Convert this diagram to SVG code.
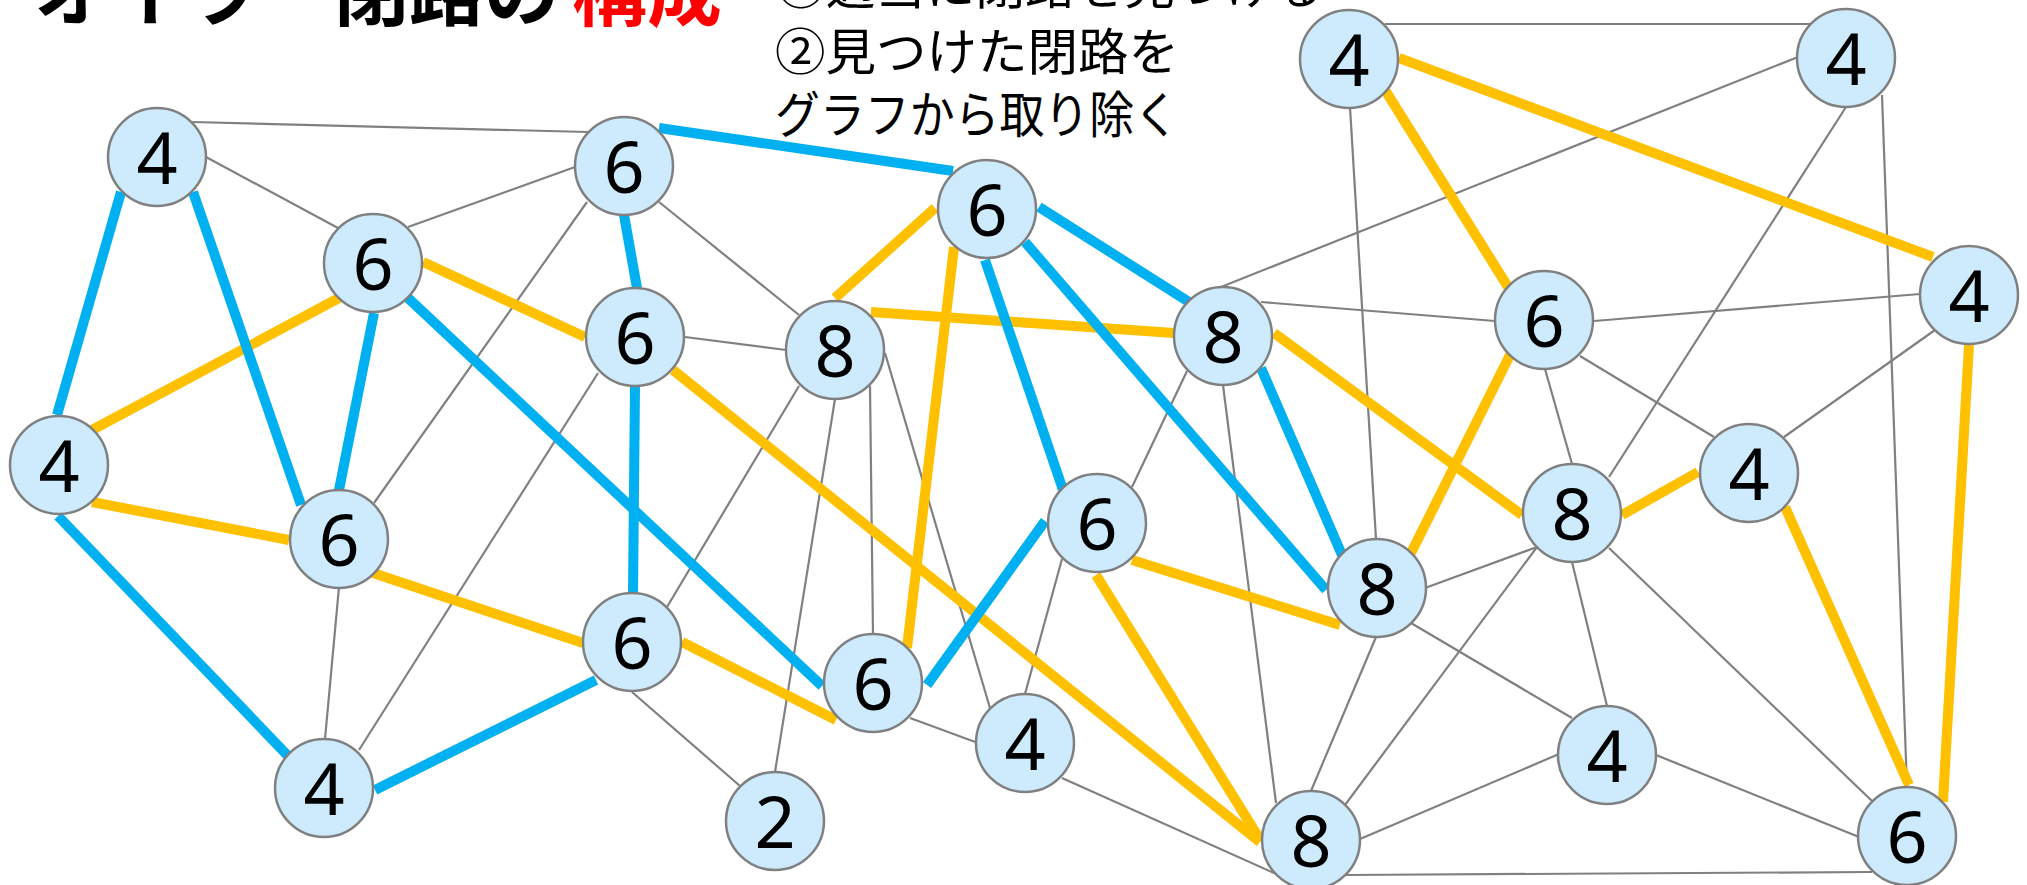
<svg xmlns="http://www.w3.org/2000/svg" width="2027" height="885" viewBox="0 0 2027 885">
<style>
.g{stroke:#808080;stroke-width:2.2;fill:none}
.b{stroke:#00B0F0;stroke-width:10;fill:none}
.y{stroke:#FFC000;stroke-width:10;fill:none}
.n circle{fill:#CDEBFD;stroke:#808080;stroke-width:2.5}
.n text{font-family:"Noto Sans","DejaVu Sans",sans-serif;font-size:72px;fill:#000;text-anchor:middle}
.jp{font-family:"Noto Sans CJK JP","Noto Sans CJK SC",sans-serif}
</style>
<rect width="2027" height="885" fill="#fff"/>
<g id="title">
<text class="jp" x="34" y="20" font-size="75" font-weight="bold" fill="#000">オイラー閉路の<tspan x="572" fill="#FF0000">構成</tspan></text>
<text class="jp" x="776" y="4" font-size="50" fill="#000" textLength="548" lengthAdjust="spacingAndGlyphs">①適当に閉路を見つける</text>
<text class="jp" x="775" y="70" font-size="50" fill="#000" textLength="404" lengthAdjust="spacingAndGlyphs">②見つけた閉路を</text>
<text class="jp" x="775" y="133" font-size="50" fill="#000" textLength="404" lengthAdjust="spacingAndGlyphs">グラフから取り除く</text>
</g>
<g id="connectors">
<g id="gray">
<line class="g" x1="192" y1="122" x2="588" y2="132"/>
<line class="g" x1="206" y1="157" x2="338" y2="228"/>
<line class="g" x1="408" y1="227" x2="575" y2="167"/>
<line class="g" x1="587" y1="202" x2="374" y2="503"/>
<line class="g" x1="659" y1="202" x2="799" y2="315"/>
<line class="g" x1="685" y1="337" x2="786" y2="350"/>
<line class="g" x1="598" y1="373" x2="359" y2="750"/>
<line class="g" x1="339" y1="587" x2="325" y2="739"/>
<line class="g" x1="799" y1="386" x2="667" y2="607"/>
<line class="g" x1="835" y1="399" x2="775" y2="772"/>
<line class="g" x1="870" y1="386" x2="873" y2="634"/>
<line class="g" x1="885" y1="353" x2="990" y2="708"/>
<line class="g" x1="632" y1="692" x2="740" y2="786"/>
<line class="g" x1="910" y1="718" x2="978" y2="743"/>
<line class="g" x1="1025" y1="694" x2="1062" y2="559"/>
<line class="g" x1="1062" y1="778" x2="1274" y2="873"/>
<line class="g" x1="1132" y1="487" x2="1187" y2="371"/>
<line class="g" x1="1223" y1="385" x2="1276" y2="803"/>
<line class="g" x1="1261" y1="302" x2="1495" y2="321"/>
<line class="g" x1="1221" y1="287" x2="1798" y2="57"/>
<line class="g" x1="1385" y1="24" x2="1812" y2="24"/>
<line class="g" x1="1350" y1="107" x2="1376" y2="539"/>
<line class="g" x1="1846" y1="107" x2="1609" y2="477"/>
<line class="g" x1="1882" y1="95" x2="1907" y2="788"/>
<line class="g" x1="1594" y1="321" x2="1920" y2="294"/>
<line class="g" x1="1545" y1="369" x2="1572" y2="464"/>
<line class="g" x1="1580" y1="356" x2="1714" y2="437"/>
<line class="g" x1="1935" y1="330" x2="1784" y2="437"/>
<line class="g" x1="1425" y1="588" x2="1537" y2="547"/>
<line class="g" x1="1411" y1="623" x2="1572" y2="718"/>
<line class="g" x1="1376" y1="637" x2="1311" y2="791"/>
<line class="g" x1="1537" y1="547" x2="1345" y2="805"/>
<line class="g" x1="1572" y1="562" x2="1607" y2="706"/>
<line class="g" x1="1609" y1="548" x2="1872" y2="801"/>
<line class="g" x1="1559" y1="754" x2="1360" y2="839"/>
<line class="g" x1="1656" y1="755" x2="1859" y2="837"/>
<line class="g" x1="1345" y1="875" x2="1872" y2="872"/>
</g>
<g id="yellow">
<line class="y" x1="92" y1="430" x2="339" y2="298"/>
<line class="y" x1="92" y1="502" x2="289" y2="540"/>
<line class="y" x1="423" y1="262" x2="585" y2="337"/>
<line class="y" x1="373" y1="573" x2="583" y2="643"/>
<line class="y" x1="682" y1="642" x2="836" y2="720"/>
<line class="y" x1="673" y1="370" x2="1260" y2="842"/>
<line class="y" x1="835" y1="298" x2="935" y2="208"/>
<line class="y" x1="871" y1="312" x2="1174" y2="333"/>
<line class="y" x1="954" y1="247" x2="907" y2="648"/>
<line class="y" x1="1132" y1="560" x2="1340" y2="625"/>
<line class="y" x1="1096" y1="575" x2="1259" y2="838"/>
<line class="y" x1="1274" y1="333" x2="1522" y2="515"/>
<line class="y" x1="1411" y1="553" x2="1511" y2="353"/>
<line class="y" x1="1385" y1="90" x2="1508" y2="287"/>
<line class="y" x1="1399" y1="58" x2="1933" y2="257"/>
<line class="y" x1="1622" y1="515" x2="1698" y2="472"/>
<line class="y" x1="1785" y1="507" x2="1909" y2="785"/>
<line class="y" x1="1969" y1="345" x2="1943" y2="802"/>
</g>
<g id="blue">
<line class="b" x1="121" y1="192" x2="57" y2="415"/>
<line class="b" x1="193" y1="192" x2="301" y2="505"/>
<line class="b" x1="374" y1="313" x2="339" y2="490"/>
<line class="b" x1="58" y1="516" x2="289" y2="757"/>
<line class="b" x1="375" y1="790" x2="596" y2="680"/>
<line class="b" x1="624" y1="215" x2="637" y2="288"/>
<line class="b" x1="635" y1="386" x2="633" y2="594"/>
<line class="b" x1="659" y1="128" x2="953" y2="171"/>
<line class="b" x1="408" y1="298" x2="822" y2="686"/>
<line class="b" x1="927" y1="685" x2="1045" y2="521"/>
<line class="b" x1="985" y1="260" x2="1063" y2="490"/>
<line class="b" x1="1025" y1="242" x2="1326" y2="590"/>
<line class="b" x1="1039" y1="207" x2="1189" y2="302"/>
<line class="b" x1="1261" y1="368" x2="1342" y2="555"/>
</g>
</g>
<g id="nodes" class="n">
<g id="nA"><circle cx="157" cy="157" r="49"/><text x="157" y="184">4</text></g>
<g id="nB"><circle cx="624" cy="166" r="49"/><text x="624" y="193">6</text></g>
<g id="nC"><circle cx="373" cy="263" r="49"/><text x="373" y="290">6</text></g>
<g id="nD"><circle cx="635" cy="337" r="49"/><text x="635" y="364">6</text></g>
<g id="nE"><circle cx="835" cy="350" r="49"/><text x="835" y="377">8</text></g>
<g id="nF"><circle cx="987" cy="209" r="49"/><text x="987" y="236">6</text></g>
<g id="nG"><circle cx="59" cy="465" r="49"/><text x="59" y="492">4</text></g>
<g id="nH"><circle cx="339" cy="539" r="49"/><text x="339" y="566">6</text></g>
<g id="nI"><circle cx="632" cy="642" r="49"/><text x="632" y="669">6</text></g>
<g id="nJ"><circle cx="324" cy="788" r="49"/><text x="324" y="815">4</text></g>
<g id="nK"><circle cx="775" cy="821" r="49"/><text x="775" y="848">2</text></g>
<g id="nL"><circle cx="873" cy="683" r="49"/><text x="873" y="710">6</text></g>
<g id="nM"><circle cx="1025" cy="743" r="49"/><text x="1025" y="770">4</text></g>
<g id="nN"><circle cx="1097" cy="523" r="49"/><text x="1097" y="550">6</text></g>
<g id="nO"><circle cx="1223" cy="336" r="49"/><text x="1223" y="363">8</text></g>
<g id="nP"><circle cx="1377" cy="588" r="49"/><text x="1377" y="615">8</text></g>
<g id="nQ"><circle cx="1311" cy="840" r="49"/><text x="1311" y="867">8</text></g>
<g id="nR"><circle cx="1349" cy="59" r="49"/><text x="1349" y="86">4</text></g>
<g id="nS"><circle cx="1846" cy="58" r="49"/><text x="1846" y="85">4</text></g>
<g id="nT"><circle cx="1544" cy="320" r="49"/><text x="1544" y="347">6</text></g>
<g id="nU"><circle cx="1969" cy="295" r="49"/><text x="1969" y="322">4</text></g>
<g id="nV"><circle cx="1572" cy="513" r="49"/><text x="1572" y="540">8</text></g>
<g id="nW"><circle cx="1749" cy="473" r="49"/><text x="1749" y="500">4</text></g>
<g id="nX"><circle cx="1607" cy="755" r="49"/><text x="1607" y="782">4</text></g>
<g id="nY"><circle cx="1907" cy="836" r="49"/><text x="1907" y="863">6</text></g>
</g>
</svg>
